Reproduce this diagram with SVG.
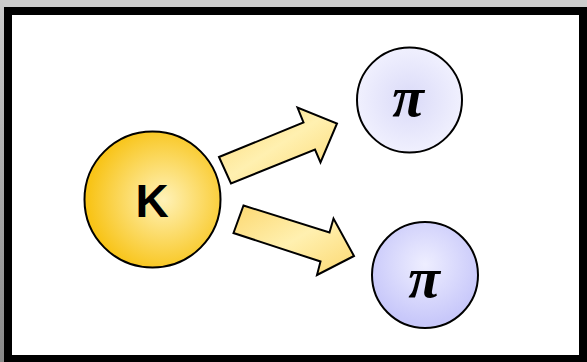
<svg xmlns="http://www.w3.org/2000/svg" width="587" height="362" viewBox="0 0 587 362">
<defs>
<style>
.ring{stroke:#000;stroke-width:2}
.arrow{stroke:#000;stroke-width:2;stroke-linejoin:miter;fill:url(#arrowGrad)}
.lblK{font-family:"Liberation Sans",Arial,sans-serif;font-weight:bold;font-size:46px;text-anchor:middle;fill:#000}
.lblPi{font-family:"Liberation Serif",serif;font-weight:bold;font-style:italic;font-size:58px;text-anchor:middle;fill:#000}
</style>
<linearGradient id="leftStrip" x1="0" y1="0" x2="0" y2="1">
<stop offset="0" stop-color="#cccccc"/>
<stop offset="1" stop-color="#888888"/>
</linearGradient>
<radialGradient id="gK" cx="0.58" cy="0.5" r="0.55">
<stop offset="0" stop-color="#fff2b8"/>
<stop offset="1" stop-color="#f8c418"/>
</radialGradient>
<radialGradient id="gPi1" cx="0.5" cy="0.5" r="0.5">
<stop offset="0" stop-color="#dadaf8"/>
<stop offset="1" stop-color="#f0f0fe"/>
</radialGradient>
<radialGradient id="gPi2" cx="0.5" cy="0.4" r="0.55">
<stop offset="0" stop-color="#eeeeff"/>
<stop offset="1" stop-color="#c8c8fa"/>
</radialGradient>
<linearGradient id="arrowGrad" x1="0" y1="0" x2="1" y2="1">
<stop offset="0" stop-color="#fcd870"/>
<stop offset="0.5" stop-color="#fff0b0"/>
<stop offset="1" stop-color="#fcd870"/>
</linearGradient>
</defs>
<rect x="0" y="0" width="587" height="362" fill="#cccccc"/>
<rect x="0" y="0" width="4" height="362" fill="url(#leftStrip)"/>
<rect x="4" y="7" width="583" height="355" fill="#000"/>
<rect x="12" y="15" width="567" height="340" fill="#fff"/>
<g id="connectors">
<polygon class="arrow" points="219,157 303.5,122.5 297.5,107.5 337,123.5 320.5,162.5 315,149.5 231,183.5"/>
<polygon class="arrow" points="243.5,205.5 329.5,232.5 333.5,218.5 354,256 317,275 320.5,261.5 233.5,233"/>
</g>
<g id="K">
<circle class="ring" cx="152.5" cy="199.5" r="68" fill="url(#gK)"/>
<text class="lblK" x="152" y="217">K</text>
</g>
<g id="pi1">
<circle class="ring" cx="409.5" cy="100" r="52.5" fill="url(#gPi1)"/>
<text class="lblPi" x="408" y="116">π</text>
</g>
<g id="pi2">
<circle class="ring" cx="425" cy="275" r="53" fill="url(#gPi2)"/>
<text class="lblPi" x="424" y="297">π</text>
</g>
</svg>
